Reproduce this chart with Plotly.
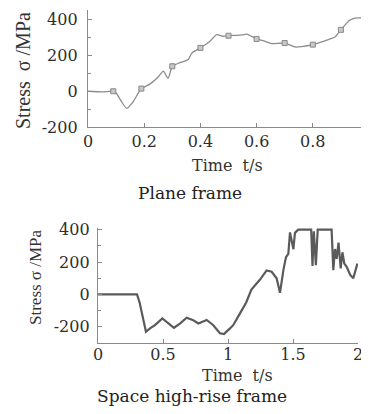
import plotly.graph_objects as go

# page body has an 8px margin: figure drawn from (8, 8)
OFF = 8
W, H = 361, 398

# Plane frame
t_plane = [0, 0.05, 0.09, 0.10, 0.12, 0.138, 0.16, 0.19, 0.22, 0.25, 0.268, 0.285, 0.30, 0.327,
           0.357, 0.37, 0.40, 0.43, 0.458, 0.48, 0.50, 0.55, 0.565, 0.60, 0.63, 0.653, 0.70,
           0.737, 0.76, 0.80, 0.855, 0.88, 0.90, 0.93, 0.95, 1.0]
s_plane = [0, -3, 0, -10, -60, -96, -60, 15, 40, 80, 113, 72, 140, 160,
           178, 215, 243, 274, 317, 308, 311, 316, 320, 293, 280, 267, 270,
           248, 250, 261, 289, 305, 344, 396, 410, 409]
t_plane_mk = [0.09, 0.19, 0.30, 0.40, 0.50, 0.60, 0.70, 0.80, 0.90, 1.0]
s_plane_mk = [0, 15, 140, 243, 311, 293, 270, 261, 344, 409]

# Space high-rise frame
t_space = [0, 0.13, 0.30, 0.32, 0.349, 0.369, 0.40, 0.438, 0.495, 0.54, 0.584, 0.63, 0.682,
           0.733, 0.772, 0.836, 0.887, 0.938, 0.969, 1.015, 1.04, 1.09, 1.14, 1.18, 1.245,
           1.297, 1.336, 1.374, 1.40, 1.426, 1.446, 1.464, 1.477, 1.503, 1.515, 1.54, 1.64,
           1.65, 1.66, 1.676, 1.69, 1.797, 1.81, 1.823, 1.836, 1.85, 1.867, 1.88, 1.895,
           1.913, 1.94, 1.964, 1.995]
s_space = [0, 0, 0, -50, -150, -231, -210, -190, -148, -180, -206, -180, -144,
           -160, -179, -158, -190, -240, -245, -210, -190, -120, -50, 30, 90,
           148, 140, 100, 10, 150, 230, 250, 383, 279, 380, 400, 400,
           175, 390, 180, 400, 400, 150, 280, 220, 320, 160, 260, 190,
           170, 120, 100, 190]

x_ticks_plane = [0, 0.2, 0.4, 0.6, 0.8, 1]
x_labels_plane = ["0", "0.2", "0.4", "0.6", "0.8", "1"]
x_ticks_space = [0, 0.5, 1, 1.5, 2]
x_labels_space = ["0", "0.5", "1", "1.5", "2"]
y_ticks = [-200, 0, 200, 400]
y_labels = ["-200", "0", "200", "400"]

TICKFONT = dict(family="DejaVu Serif, serif", size=16, color="#2e2e2e")
AX = "#8a8a8a"


def px(x):
    return (x - OFF) / W


def py(y):
    return 1 - (y - OFF) / H


fig = go.Figure()
fig.add_trace(go.Scatter(x=t_plane, y=s_plane, mode="lines",
                         line=dict(color="#8c8c8c", width=1.3, shape="spline", smoothing=0.6),
                         xaxis="x", yaxis="y", showlegend=False, hoverinfo="skip"))
fig.add_trace(go.Scatter(x=t_plane_mk, y=s_plane_mk, mode="markers",
                         marker=dict(symbol="square", size=5, color="#c8c8c8", line=dict(color="#888", width=1)),
                         xaxis="x", yaxis="y", showlegend=False, hoverinfo="skip", cliponaxis=False))
fig.add_trace(go.Scatter(x=t_space, y=s_space, mode="lines", line=dict(color="#5a5a5a", width=2.2),
                         xaxis="x2", yaxis="y2", showlegend=False, hoverinfo="skip"))

common_axis = dict(showgrid=False, zeroline=False, showline=True, linecolor=AX, linewidth=1.3,
                   ticks="inside", ticklen=4, tickcolor=AX, tickfont=TICKFONT, automargin=False,
                   ticklabeloverflow="allow")

fig.update_layout(
    width=W, height=H, margin=dict(l=0, r=0, t=0, b=0),
    paper_bgcolor="white", plot_bgcolor="white",
    xaxis=dict(domain=[px(88), px(369)], range=[0, 1], anchor="y", tickvals=x_ticks_plane,
               ticktext=x_labels_plane, ticklabelstandoff=0, **common_axis),
    yaxis=dict(domain=[py(127), py(10)], range=[-200, 455], anchor="x", tickvals=y_ticks,
               ticktext=y_labels, ticklabelstandoff=6,
               minor=dict(dtick=100, ticks="inside", ticklen=3, tickcolor=AX),
               **common_axis),
    xaxis2=dict(domain=[px(98), px(358)], range=[0, 2], anchor="y2", tickvals=x_ticks_space,
                ticktext=x_labels_space, ticklabelstandoff=-3, **common_axis),
    yaxis2=dict(domain=[py(343), py(228)], range=[-300, 410], anchor="x2", tickvals=y_ticks,
                ticktext=y_labels, ticklabelstandoff=4,
                minor=dict(dtick=100, ticks="inside", ticklen=3, tickcolor=AX),
                **common_axis),
)


def label(x, y, text, family, size, color="#333", angle=0):
    fig.add_annotation(x=px(x), y=py(y), xref="paper", yref="paper", text=text, showarrow=False,
                       xanchor="center", yanchor="middle", textangle=angle,
                       font=dict(family=family, size=size, color=color))


label(228, 165, "Time  t/s", "DejaVu Serif, serif", 16)
label(237, 375, "Time  t/s", "DejaVu Serif, serif", 16)
label(23, 71, "Stress  σ /MPa", "Liberation Serif, serif", 20, angle=-90)
label(35, 277, "Stress σ /MPa", "Liberation Serif, serif", 17, angle=-90)
label(190, 193, "Plane frame", "DejaVu Serif, serif", 17, color="#222")
label(192, 396, "Space high-rise frame", "DejaVu Serif, serif", 17, color="#222")

fig.write_html("out.html")
